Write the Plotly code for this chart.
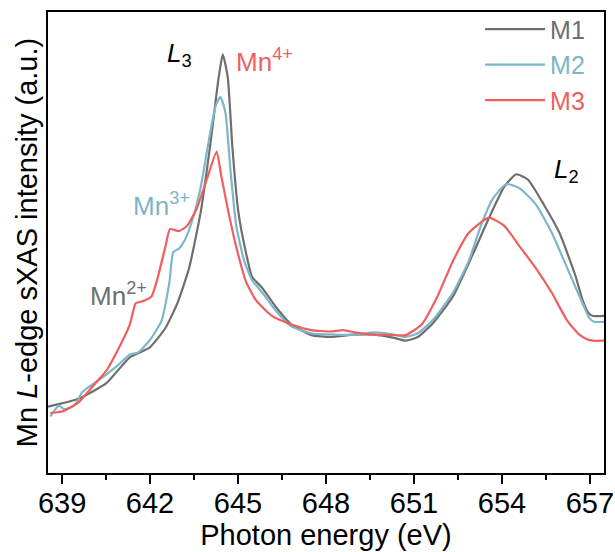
import plotly.graph_objects as go

# Mn L-edge soft XAS spectra for three samples
energy_m1 = [638.52, 639.56, 640.51, 641.31, 641.98, 642.52, 642.93, 643.33, 643.73, 644.07,
             644.34, 644.48, 644.65, 644.81, 645.01, 645.28, 645.48, 645.82, 646.29, 646.82,
             647.50, 648.17, 648.97, 649.65, 650.32, 650.72, 651.13, 651.66, 652.33, 653.01,
             653.55, 654.08, 654.49, 654.89, 655.43, 655.96, 656.50, 656.75, 656.93, 657.08,
             657.48]
m1 = [14.4, 16.1, 19.5, 25.1, 27.2, 31.4, 36.8, 44.4, 56.7, 72.0,
      85.8, 90.8, 85.8, 70.5, 56.7, 47.5, 42.5, 40.2, 36.0, 32.2,
      29.9, 29.5, 30.0, 30.0, 29.3, 28.7, 29.5, 32.6, 38.3, 47.5,
      55.2, 62.1, 64.8, 63.6, 58.2, 52.1, 42.9, 37.5, 34.9, 34.1,
      34.1]

energy_m2 = [638.60, 638.89, 639.09, 639.43, 639.70, 640.37, 640.91, 641.31, 641.58, 641.98,
             642.39, 642.66, 642.79, 642.99, 643.19, 643.46, 643.73, 644.00, 644.24, 644.40,
             644.57, 644.74, 644.94, 645.21, 645.48, 645.88, 646.29, 646.82, 647.50, 648.30,
             648.97, 649.65, 650.32, 650.72, 651.13, 651.66, 652.33, 652.87, 653.28, 653.68,
             654.15, 654.62, 655.16, 655.70, 656.23, 656.77, 656.98, 657.14, 657.48]
m2 = [12.3, 14.6, 13.8, 14.7, 17.6, 20.7, 23.4, 25.7, 26.1, 28.7,
      33.0, 41.4, 47.9, 48.7, 50.6, 55.2, 62.1, 72.0, 79.7, 81.6,
      78.2, 65.9, 53.6, 46.0, 41.8, 38.7, 35.2, 31.8, 30.3, 30.0,
      30.0, 30.5, 30.0, 29.5, 30.3, 33.3, 39.1, 46.0, 53.6, 59.4,
      62.7, 61.7, 58.2, 52.1, 44.4, 36.5, 33.6, 32.8, 32.8]

energy_m3 = [638.60, 639.03, 639.56, 640.10, 640.51, 640.91, 641.31, 641.51, 641.72, 642.05,
             642.25, 642.52, 642.68, 642.99, 643.26, 643.60, 643.93, 644.27, 644.43, 644.67,
             644.94, 645.28, 645.61, 646.15, 646.82, 647.50, 648.17, 648.57, 648.97, 649.65,
             650.32, 650.72, 651.26, 651.80, 652.33, 652.87, 653.55, 654.08, 654.62, 655.16,
             655.70, 656.23, 656.64, 656.90, 657.10, 657.48]
m3 = [13.0, 13.4, 15.3, 19.2, 22.2, 26.8, 32.2, 36.8, 37.2, 38.3,
      42.1, 49.0, 52.9, 52.5, 53.6, 57.5, 63.6, 69.7, 64.4, 56.7,
      49.0, 41.4, 37.5, 34.1, 32.2, 31.0, 30.7, 31.0, 30.5, 30.0,
      29.9, 29.9, 32.2, 38.3, 46.0, 52.1, 55.4, 53.6, 49.0, 44.4,
      39.1, 33.0, 30.0, 29.0, 28.7, 28.7]

x_ticks = [639, 642, 645, 648, 651, 654, 657]
x_minor = [640.5, 643.5, 646.5, 649.5, 652.5, 655.5]

C_M1 = "#6e6e6e"
C_M2 = "#7db6c8"
C_M3 = "#ef5f5f"
FONT = "Arial, Liberation Sans, sans-serif"

fig = go.Figure()
for xs, ys, name, color in [(energy_m1, m1, "M1", C_M1),
                            (energy_m2, m2, "M2", C_M2),
                            (energy_m3, m3, "M3", C_M3)]:
    fig.add_trace(go.Scatter(
        x=xs, y=ys, mode="lines",
        name=f'<span style="color:{color}">{name}</span>',
        line=dict(color=color, width=2.2, shape="spline", smoothing=0.5),
    ))

ann_font = dict(family=FONT, size=26)
annotations = [
    dict(x=643.0, y=90.7, text="<i>L</i><sub>3</sub>", font=dict(ann_font, color="black"),
         xanchor="center", yanchor="middle"),
    dict(x=644.85, y=89.4, text="Mn<sup>4+</sup>", font=dict(ann_font, color=C_M3),
         xanchor="left", yanchor="middle"),
    dict(x=641.35, y=58.2, text="Mn<sup>3+</sup>", font=dict(ann_font, color=C_M2),
         xanchor="left", yanchor="middle"),
    dict(x=639.9, y=38.8, text="Mn<sup>2+</sup>", font=dict(ann_font, color=C_M1),
         xanchor="left", yanchor="middle"),
    dict(x=655.72, y=65.6, text="<i>L</i><sub>2</sub>", font=dict(ann_font, color="black"),
         xanchor="left", yanchor="middle"),
]
for a in annotations:
    a.update(xref="x", yref="y", showarrow=False)

fig.update_layout(
    width=615, height=552,
    margin=dict(l=48, r=11, t=12, b=79, autoexpand=False),
    paper_bgcolor="white", plot_bgcolor="white",
    font=dict(family=FONT, size=29, color="black"),
    showlegend=True,
    legend=dict(x=0.975, y=1.012, xanchor="right", yanchor="top",
                bgcolor="rgba(0,0,0,0)", font=dict(family=FONT, size=25),
                itemwidth=60, tracegroupgap=0),
    annotations=annotations,
    xaxis=dict(
        range=[638.52, 657.48], tickvals=x_ticks, ticktext=[str(v) for v in x_ticks],
        ticks="outside", ticklen=9, tickwidth=2, tickcolor="black",
        ticklabelstandoff=-6,
        minor=dict(tickvals=x_minor, ticks="outside", ticklen=5, tickwidth=2,
                   tickcolor="black"),
        showline=True, linewidth=2, linecolor="black", mirror=True,
        showgrid=False, zeroline=False, automargin=False,
        tickfont=dict(family=FONT, size=29),
        title=dict(text="Photon energy (eV)", font=dict(family=FONT, size=29), standoff=0),
    ),
    yaxis=dict(
        range=[0, 100], showticklabels=False, ticks="",
        showline=True, linewidth=2, linecolor="black", mirror=True,
        showgrid=False, zeroline=False, automargin=False,
        title=dict(text="Mn <i>L</i>-edge sXAS intensity (a.u.)",
                   font=dict(family=FONT, size=29), standoff=0),
    ),
)

fig.write_html("out.html")
